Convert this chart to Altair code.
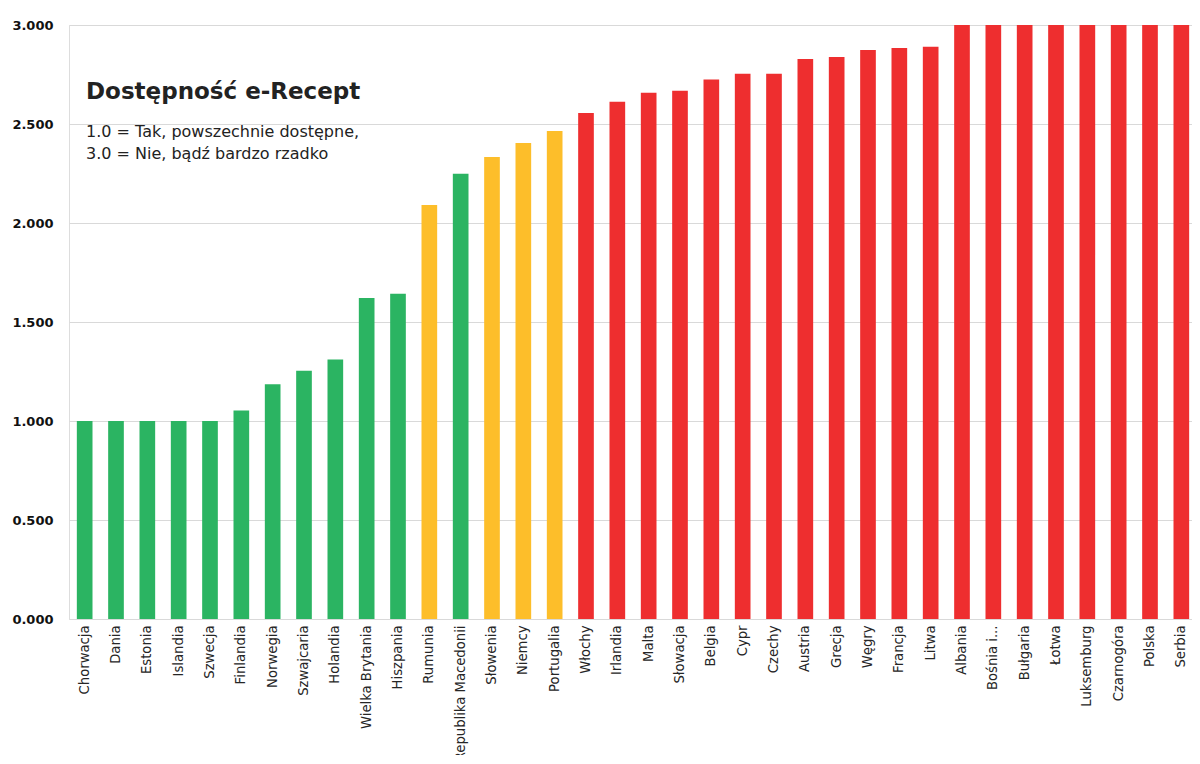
import altair as alt
import pandas as pd

countries = ["Chorwacja", "Dania", "Estonia", "Islandia", "Szwecja", "Finlandia", "Norwegia",
             "Szwajcaria", "Holandia", "Wielka Brytania", "Hiszpania", "Rumunia",
             "Republika Macedonii", "Słowenia", "Niemcy", "Portugalia", "Włochy", "Irlandia",
             "Malta", "Słowacja", "Belgia", "Cypr", "Czechy", "Austria", "Grecja", "Węgry",
             "Francja", "Litwa", "Albania", "Bośnia i Hercegowina", "Bułgaria", "Łotwa",
             "Luksemburg", "Czarnogóra", "Polska", "Serbia"]
values = [1.0, 1.0, 1.0, 1.0, 1.0, 1.053, 1.185, 1.254, 1.31, 1.621, 1.643, 2.091,
          2.249, 2.333, 2.404, 2.465, 2.556, 2.613, 2.658, 2.668, 2.725, 2.754, 2.754,
          2.828, 2.838, 2.874, 2.884, 2.89, 3.0, 3.0, 3.0, 3.0, 3.0, 3.0, 3.0, 3.0]
groups = ["tak"] * 11 + ["częściowo", "tak", "częściowo", "częściowo", "częściowo"] + ["nie"] * 20

group_names = ["tak", "częściowo", "nie"]
group_colors = ["#2BB462", "#FDBE2A", "#EE2E2F"]

y_ticks = [0, 0.5, 1.0, 1.5, 2.0, 2.5, 3.0]
title_text = "Dostępność e-Recept"
subtitle_lines = ["1.0 = Tak, powszechnie dostępne,", "3.0 = Nie, bądź bardzo rzadko"]

df = pd.DataFrame({"kraj": countries, "wartosc": values, "grupa": groups})

FONT = "DejaVu Sans"

bars = alt.Chart(df).mark_bar(clip=True).encode(
    x=alt.X("kraj:N", sort=None, title=None,
            scale=alt.Scale(range=[0, 1128], paddingInner=0.5, paddingOuter=0.25),
            axis=alt.Axis(labelAngle=-90, labelPadding=6, ticks=False, domain=False,
                          labelFontSize=13.2, labelFont=FONT, labelColor="#262626",
                          labelLimit=300,
                          labelExpr="datum.value == 'Bośnia i Hercegowina' ? 'Bośnia i...' : datum.value")),
    y=alt.Y("wartosc:Q", title=None,
            scale=alt.Scale(domain=[0, 3]),
            axis=alt.Axis(values=y_ticks, format=".3f", ticks=False, domain=False,
                          labelPadding=16, labelFont=FONT, labelFontWeight="bold",
                          labelFontSize=13, labelColor="#111111",
                          grid=True, gridColor="#D9D9D9", gridWidth=1)),
    color=alt.Color("grupa:N", scale=alt.Scale(domain=group_names, range=group_colors), legend=None),
)

title = alt.Chart().mark_text(
    text=title_text, align="left", baseline="alphabetic", font=FONT,
    fontSize=23, fontWeight="bold", color="#222222"
).encode(x=alt.value(17), y=alt.value(74))

subtitle = alt.Chart().mark_text(
    text=subtitle_lines, align="left", baseline="alphabetic", font=FONT,
    fontSize=16, lineHeight=22, color="#222222"
).encode(x=alt.value(17), y=alt.value(112))

chart = alt.layer(bars, title, subtitle).properties(
    width=1123, height=594,
    autosize=alt.AutoSizeParams(type="none"),
    padding={"left": 61, "top": 17, "right": 0, "bottom": 136},
).configure_view(stroke=None).configure(background="white")

chart.save("out.html", embed_options={"renderer": "svg", "actions": False})
